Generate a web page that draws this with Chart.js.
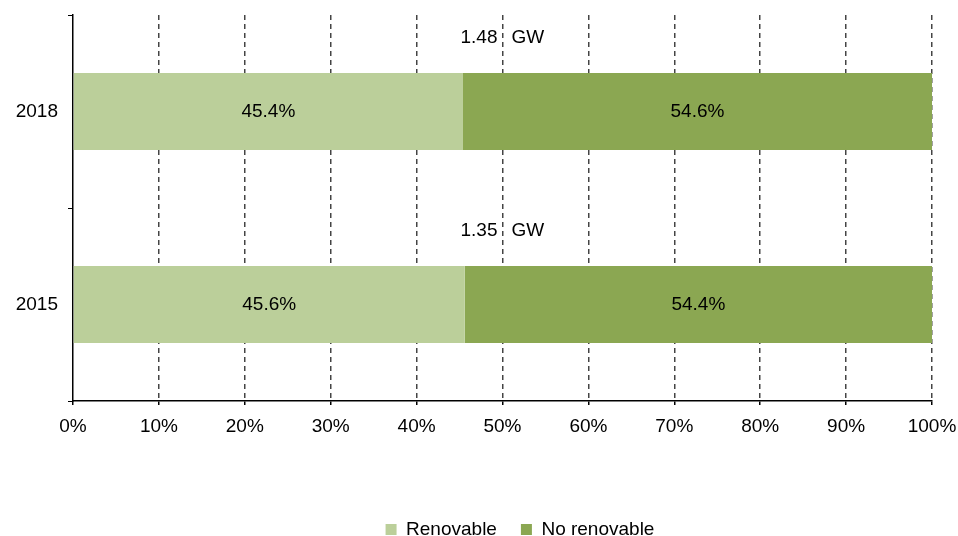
<!DOCTYPE html>
<html><head><meta charset="utf-8">
<script src="https://cdn.jsdelivr.net/npm/chart.js@4"></script>
<style>html,body{margin:0;padding:0;background:#fff}#w{width:958px;height:536px}</style>
</head><body><div id="w"><canvas id="c"></canvas></div>
<script>
const years = ['2018', '2015'];
const renovable = [45.4, 45.6];
const noRenovable = [54.6, 54.4];
const totalsGW = [1.48, 1.35];
const xTicks = [0,10,20,30,40,50,60,70,80,90,100];

const FONT = 'Liberation Sans, Arial, sans-serif';
const FS = 19;

const labelPlugin = {
  id: 'labels',
  afterLayout(chart) {
    const lg = chart.legend;
    if (lg) { lg.left += 54; lg.right += 54; lg.top += 13; lg.bottom += 13; }
  },
  afterDatasetsDraw(chart) {
    const ctx = chart.ctx;
    const xs = chart.scales.x;
    ctx.save();
    ctx.font = FS + 'px ' + FONT;
    ctx.fillStyle = '#000';
    ctx.textBaseline = 'middle';
    chart.data.datasets.forEach((ds, di) => {
      const meta = chart.getDatasetMeta(di);
      meta.data.forEach((bar, i) => {
        const left = Math.min(bar.base, bar.x), right = Math.max(bar.base, bar.x);
        ctx.textAlign = 'center';
        ctx.fillText(ds.data[i].toFixed(1) + '%', (left + right) / 2, bar.y);
      });
    });
    const meta0 = chart.getDatasetMeta(0);
    meta0.data.forEach((bar, i) => {
      const cx = xs.getPixelForValue(50);
      const y = bar.y - bar.height / 2 - 35;
      ctx.textAlign = 'right';
      ctx.fillText(totalsGW[i].toFixed(2), cx - 5, y);
      ctx.textAlign = 'left';
      ctx.fillText('GW', cx + 9, y);
    });
    ctx.restore();
  }
};

new Chart(document.getElementById('c'), {
  type: 'bar',
  data: {
    labels: years,
    datasets: [
      { label: 'Renovable', data: renovable, backgroundColor: '#BBCF9A', barPercentage: 0.4, categoryPercentage: 1 },
      { label: 'No renovable', data: noRenovable, backgroundColor: '#8BA752', barPercentage: 0.4, categoryPercentage: 1 }
    ]
  },
  options: {
    indexAxis: 'y',
    responsive: true,
    maintainAspectRatio: false,
    animation: false,
    devicePixelRatio: 1,
    layout: { padding: { left: 0, right: 26, top: 15, bottom: 0 } },
    plugins: {
      legend: {
        position: 'bottom',
        labels: { font: { size: FS, family: FONT }, color: '#000', boxWidth: 11, boxHeight: 11, padding: 24 }
      },
      tooltip: { enabled: false }
    },
    scales: {
      x: {
        stacked: true, min: 0, max: 100,
        afterBuildTicks(s) { s.ticks = xTicks.map(v => ({ value: v })); },
        afterFit(s) { s.height = 82; s.paddingLeft = 0; s.paddingRight = 0; },
        ticks: { callback: v => v + '%', font: { size: FS, family: FONT }, color: '#000', padding: 10, maxRotation: 0 },
        grid: {
          color: ctx => ctx.tick && ctx.tick.value === 0 ? 'rgba(0,0,0,0)' : '#444',
          lineWidth: 1.5,
          tickLength: 4,
          tickColor: '#000',
          tickBorderDash: [],
          drawTicks: true
        },
        border: { display: true, color: '#000', width: 1.5, dash: [5, 4] }
      },
      y: {
        stacked: true,
        afterFit(s) { s.width = 73; s.paddingTop = 0; s.paddingBottom = 0; },
        ticks: { font: { size: FS, family: FONT }, color: '#000', padding: 10 },
        grid: { offset: true, drawOnChartArea: false, tickLength: 5, color: '#000', tickColor: '#000' },
        border: { display: true, color: '#000', width: 1.5 }
      }
    }
  },
  plugins: [labelPlugin]
});
</script>
</body></html>
